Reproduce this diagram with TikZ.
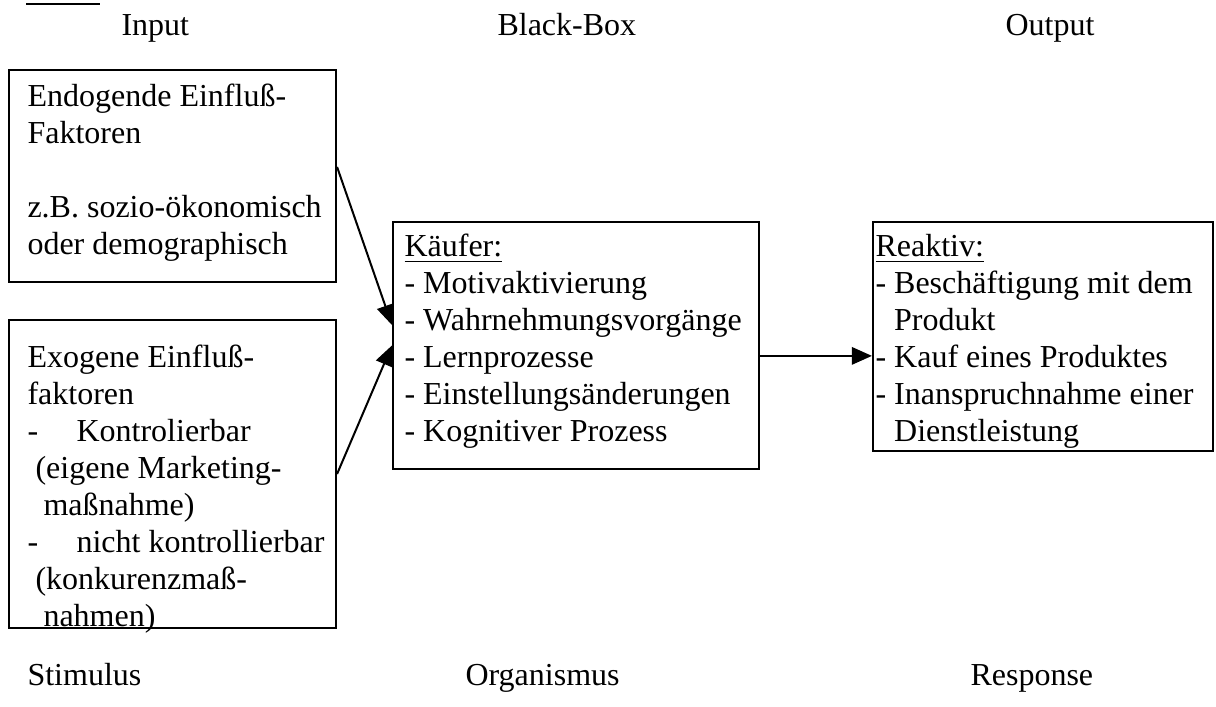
\documentclass[tikz,border=0pt]{standalone}
\usepackage{fontspec}
\setmainfont{Liberation Serif}
\usetikzlibrary{arrows.meta,fit}
% several lines of text whose reference point is the first line's baseline
\newcommand{\boxlines}[1]{\begin{tabular}[t]{@{}l@{}}#1\end{tabular}}
\begin{document}
\begin{tikzpicture}[x=0.375pt,y=-0.375pt,
  every node/.style={font=\fontsize{12pt}{13.875pt}\selectfont, inner sep=0pt},
  frame/.style={draw, line width=0.8pt, inner sep=0pt},
  txt/.style={anchor=base west},
  flow/.style={line width=0.75pt, -{Triangle[length=7.5pt,width=6.5pt]}}]
\useasboundingbox (0,0) rectangle (1216,707);

% underline of the heading above
\draw[line width=0.75pt] (26,4) -- (100,4);

% column headings
\node[txt] (input)  at (121,36)  {Input};
\node[txt] (bbox)   at (497,36)  {Black-Box};
\node[txt] (output) at (1005,36) {Output};

% frames
\node[frame, fit={(9,70) (336,282)}]    (endo) {};
\node[frame, fit={(9,320) (336,628)}]   (exo)  {};
\node[frame, fit={(393,222) (759,469)}] (kauf) {};
\node[frame, fit={(873,222) (1213,451)}] (reak) {};

% frame contents
\node[txt] (t-endo) at (27,107) {\boxlines{Endogende Einfluß-\\Faktoren\\ \\z.B. sozio-ökonomisch\\oder demographisch}};
\node[txt] (t-exo) at (27,368) {\boxlines{Exogene Einfluß-\\faktoren\\-\hspace{14.4pt}Kontrolierbar\\\hspace{3pt}(eigene Marketing-\\\hspace{6pt}maßnahme)\\-\hspace{14.4pt}nicht kontrollierbar\\\hspace{3pt}(konkurenzmaß-\\\hspace{6pt}nahmen)}};
\node[txt] (t-kauf) at (404,257) {\boxlines{\underline{Käufer:}\\- Motivaktivierung\\- Wahrnehmungsvorgänge\\- Lernprozesse\\- Einstellungsänderungen\\- Kognitiver Prozess}};
\node[txt] (t-reak) at (875,257) {\boxlines{\underline{Reaktiv:}\\- Beschäftigung mit dem\\\phantom{- }Produkt\\- Kauf eines Produktes\\- Inanspruchnahme einer\\\phantom{- }Dienstleistung}};

% connectors
\draw[flow] ([yshift=3.4pt]endo.east) -- ([yshift=7.7pt]kauf.west);
\draw[flow] (exo.east) -- (kauf.west);
\coordinate (k1) at ([yshift=-3.9pt]kauf.east);
\draw[flow] (k1) -- (k1 -| reak.west);

% row labels
\node[txt] (stim) at (27,686)  {Stimulus};
\node[txt] (org)  at (465,686) {Organismus};
\node[txt] (resp) at (970,686) {Response};
\end{tikzpicture}
\end{document}
